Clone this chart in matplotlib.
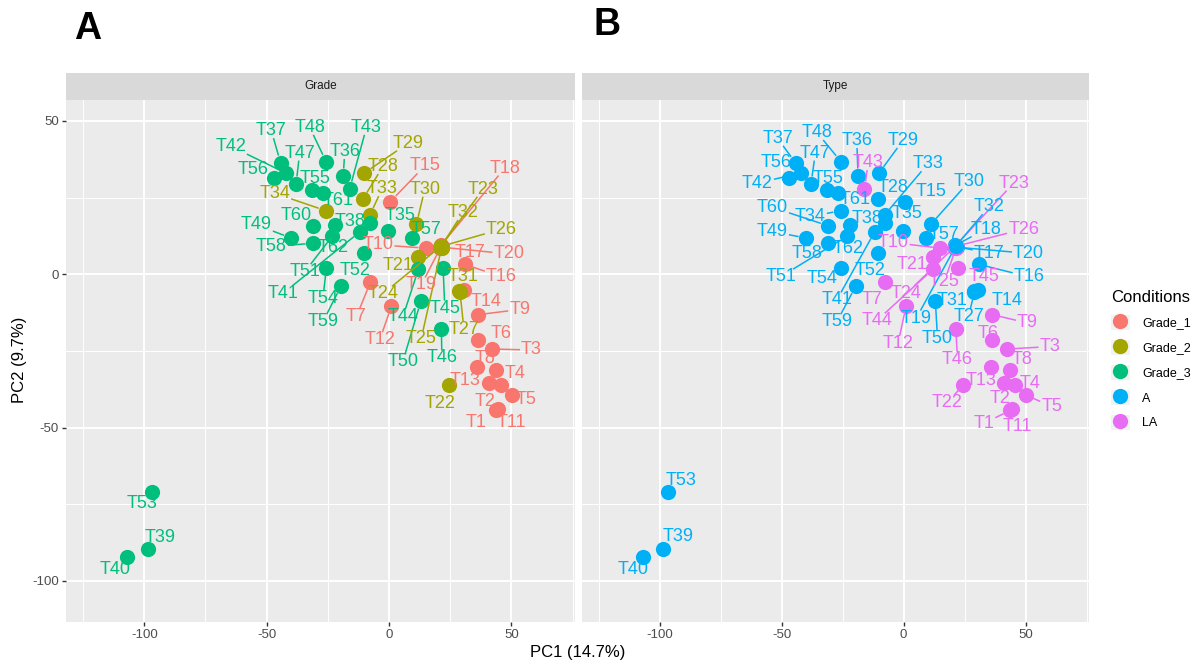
import math

import matplotlib
matplotlib.use("Agg")
import matplotlib.pyplot as plt
from matplotlib.lines import Line2D
from matplotlib.patches import Patch
from matplotlib.legend_handler import HandlerTuple


samples = ["T1", "T2", "T3", "T4", "T5", "T6", "T7", "T8", "T9", "T10",
           "T11", "T12", "T13", "T14", "T15", "T16", "T17", "T18", "T19", "T20",
           "T21", "T22", "T23", "T24", "T25", "T26", "T27", "T28", "T29", "T30",
           "T31", "T32", "T33", "T34", "T35", "T36", "T37", "T38", "T39", "T40",
           "T41", "T42", "T43", "T44", "T45", "T46", "T47", "T48", "T49", "T50",
           "T51", "T52", "T53", "T54", "T55", "T56", "T57", "T58", "T59", "T60",
           "T61", "T62"]

pc1 = [43.8, 41.0, 42.2, 45.8, 50.2, 36.2, -7.6, 43.8, 36.4, 15.1,
       44.4, 1.0, 35.8, 30.6, 0.6, 30.9, 21.8, 21.2, 21.0, 21.6,
       11.9, 24.5, 21.3, 21.0, 21.5, 21.4, 29.0, -10.7, -10.1, 11.2,
       28.8, 21.4, -7.8, -25.8, -0.4, -18.7, -44.3, -7.6, -98.5, -107.0,
       -11.9, -42.2, -16.1, 12.0, 22.1, 21.4, -38.0, -25.7, -40.0, 13.0,
       -23.2, -10.4, -96.7, -25.6, -31.6, -47.0, 9.2, -31.0, -19.7, -31.0,
       -26.9, -22.0]

pc2 = [-44.4, -35.5, -24.4, -36.0, -39.4, -21.4, -2.6, -31.3, -13.2, 8.5,
       -44.0, -10.4, -30.2, -5.2, 23.7, 3.2, 9.0, 9.4, 8.6, 8.8,
       5.7, -36.0, 9.3, 9.0, 8.7, 9.1, -5.8, 24.5, 33.0, 16.3,
       -5.6, 9.2, 19.3, 20.7, 14.0, 32.0, 36.3, 16.6, -89.6, -92.3,
       13.8, 33.0, 27.8, 1.6, 2.0, -17.8, 29.4, 36.7, 11.8, -8.8,
       12.4, 7.0, -71.0, 2.0, 27.6, 31.4, 11.7, 10.1, -4.0, 15.8,
       26.5, 16.0]

grade = ["Grade_1"] * 20 + ["Grade_2"] * 14 + ["Grade_3"] * 28

tissue_type = (["LA"] * 13 + ["A"] * 7 + ["LA"] * 6 + ["A"] * 16
               + ["LA"] * 4 + ["A"] * 16)

levels = ["Grade_1", "Grade_2", "Grade_3", "A", "LA"]
colors = {"Grade_1": "#F8766D", "Grade_2": "#A3A500", "Grade_3": "#00BF7D",
          "A": "#00B0F6", "LA": "#E76BF3"}

# where the repelled labels ended up in each facet (data units)
label_pos_grade = {
    "T1": (35.4, -48.4), "T2": (39.1, -41.5), "T3": (58.2, -24.7), "T4": (51.4, -32.5),
    "T5": (56.2, -40.8), "T6": (45.9, -19.2), "T7": (-13.3, -13.8), "T8": (39.1, -27.4),
    "T9": (53.4, -11.5), "T10": (-4.5, 9.6), "T11": (50.0, -48.4), "T12": (-3.8, -21.4),
    "T13": (30.9, -34.5), "T14": (39.8, -8.9), "T15": (14.6, 35.3), "T16": (45.9, -0.8),
    "T17": (33.0, 7.0), "T18": (47.3, 34.6), "T19": (13.2, -3.5), "T20": (49.0, 6.6),
    "T21": (3.7, 2.7), "T22": (20.7, -42.3), "T23": (38.4, 27.7), "T24": (-2.5, -6.4),
    "T25": (13.2, -20.9), "T26": (45.9, 14.7), "T27": (30.6, -17.9), "T28": (-2.5, 35.1),
    "T29": (7.8, 42.7), "T30": (14.6, 27.7), "T31": (30.2, -0.8), "T32": (30.2, 20.1),
    "T33": (-2.8, 27.9), "T34": (-46.7, 26.4), "T35": (4.4, 19.3), "T36": (-18.1, 40.0),
    "T37": (-48.1, 46.8), "T38": (-16.1, 17.2), "T39": (-93.7, -85.7), "T40": (-112.1, -96.4),
    "T41": (-43.3, -6.2), "T42": (-64.4, 41.6), "T43": (-9.2, 47.9), "T44": (5.7, -13.8),
    "T45": (22.8, -11.1), "T46": (21.6, -27.3), "T47": (-36.5, 39.5), "T48": (-32.4, 47.9),
    "T49": (-54.2, 16.1), "T50": (5.6, -28.6), "T51": (-34.4, 0.8), "T52": (-14.0, 1.2),
    "T53": (-101.1, -74.9), "T54": (-27.0, -7.8), "T55": (-30.4, 31.3), "T56": (-55.6, 34.2),
    "T57": (15.3, 14.7), "T58": (-48.1, 9.0), "T59": (-27.0, -15.5), "T60": (-37.8, 19.0),
    "T61": (-20.8, 24.0), "T62": (-22.9, 8.8),
}

label_pos_type = {
    "T1": (32.9, -48.6), "T2": (39.7, -40.4), "T3": (60.0, -23.6), "T4": (51.9, -35.5),
    "T5": (60.7, -43.2), "T6": (34.6, -19.3), "T7": (-13.1, -8.2), "T8": (48.5, -27.9),
    "T9": (50.8, -15.9), "T10": (-4.3, 10.3), "T11": (46.5, -49.5), "T12": (-2.3, -22.6),
    "T13": (31.6, -34.5), "T14": (42.4, -8.5), "T15": (11.3, 26.9), "T16": (51.5, -0.9),
    "T17": (35.0, 6.8), "T18": (33.6, 14.7), "T19": (5.2, -14.3), "T20": (51.2, 6.8),
    "T21": (3.5, 3.2), "T22": (18.0, -41.9), "T23": (45.1, 29.7), "T24": (1.1, -6.3),
    "T25": (16.7, -2.4), "T26": (49.2, 14.7), "T27": (26.6, -13.9), "T28": (-4.3, 28.3),
    "T29": (-0.3, 43.6), "T30": (26.8, 30.2), "T31": (19.8, -8.6), "T32": (35.0, 22.0),
    "T33": (9.9, 36.0), "T34": (-38.2, 18.8), "T35": (1.4, 19.7), "T36": (-19.2, 43.6),
    "T37": (-51.7, 44.3), "T38": (-15.2, 18.3), "T39": (-92.3, -85.6), "T40": (-111.0, -96.4),
    "T41": (-27.4, -8.4), "T42": (-59.9, 29.7), "T43": (-14.5, 36.4), "T44": (-11.1, -15.2),
    "T45": (32.9, -0.8), "T46": (22.1, -27.9), "T47": (-36.2, 39.5), "T48": (-35.5, 46.2),
    "T49": (-53.8, 13.9), "T50": (13.9, -20.9), "T51": (-50.4, -0.8), "T52": (-13.8, 1.2),
    "T53": (-91.1, -67.4), "T54": (-33.5, -1.3), "T55": (-30.8, 31.3), "T56": (-52.4, 36.4),
    "T57": (16.7, 12.8), "T58": (-39.6, 6.8), "T59": (-27.4, -15.5), "T60": (-53.8, 21.8),
    "T61": (-19.9, 24.2), "T62": (-22.6, 8.5),
}

LABEL_FONT = ["Liberation Sans Narrow", "Liberation Sans", "DejaVu Sans"]
BASE_FONT = ["Liberation Sans", "DejaVu Sans"]
plt.rcParams["font.family"] = BASE_FONT
plt.rcParams["axes.unicode_minus"] = False

POINT_S = 120
POINT_R = math.sqrt(POINT_S) / 2 * 100 / 72  # radius in pixels


def style_panel(ax, strip_text, fig, show_y):
    ax.set_facecolor("#EBEBEB")
    ax.set_xlim(-132, 76)
    ax.set_ylim(-113.3, 56.8)
    ax.set_xticks([-100, -50, 0, 50])
    ax.set_xticks([-125, -75, -25, 25, 75], minor=True)
    ax.set_yticks([-100, -50, 0, 50])
    ax.set_yticks([-75, -25, 25], minor=True)
    ax.grid(which="major", color="white", linewidth=1.4)
    ax.grid(which="minor", color="white", linewidth=0.7)
    ax.set_axisbelow(True)
    for s in ax.spines.values():
        s.set_visible(False)
    ax.tick_params(which="major", length=3, width=1.0, color="#333333",
                   labelsize=9.5, labelcolor="#4D4D4D", pad=2)
    ax.tick_params(which="minor", length=0)
    if not show_y:
        ax.tick_params(axis="y", which="major", length=0, labelleft=False)

    pos = ax.get_position()
    sax = fig.add_axes([pos.x0, pos.y1, pos.width, 27.5 / 664])
    sax.set_facecolor("#D9D9D9")
    sax.set_xticks([])
    sax.set_yticks([])
    for s in sax.spines.values():
        s.set_visible(False)
    sax.text(0.5, 0.5, strip_text, ha="center", va="center",
             fontsize=8.5, color="#1A1A1A", transform=sax.transAxes)


def draw_panel(ax, groups, label_pos):
    texts = []
    for name, x, y, g in zip(samples, pc1, pc2, groups):
        ax.scatter(x, y, s=POINT_S, color=colors[g], linewidths=0, zorder=3)
    for name, x, y, g in zip(samples, pc1, pc2, groups):
        lx, ly = label_pos[name]
        t = ax.text(lx, ly, name, color=colors[g], fontsize=13,
                    family=LABEL_FONT, ha="center", va="center", zorder=6)
        texts.append((t, x, y, colors[g]))
    return texts


def add_segments(fig, ax, texts):
    renderer = fig.canvas.get_renderer()
    inv = ax.transData.inverted()
    for t, x, y, c in texts:
        bb = t.get_window_extent(renderer)
        px, py = ax.transData.transform((x, y))
        lcx, lcy = (bb.x0 + bb.x1) / 2, (bb.y0 + bb.y1) / 2
        vx, vy = lcx - px, lcy - py
        dist = math.hypot(vx, vy)
        if dist < 1e-6:
            continue
        hw, hh = bb.width / 2 + 1, bb.height / 2 - 1
        s = min(hw / abs(vx) if vx else 1e9, hh / abs(vy) if vy else 1e9, 1.0)
        ex, ey = lcx - vx * s, lcy - vy * s
        seg = math.hypot(ex - px, ey - py)
        if seg < POINT_R + 6:
            continue
        sx, sy = px + vx / dist * POINT_R, py + vy / dist * POINT_R
        (x0, y0), (x1, y1) = inv.transform([(sx, sy), (ex, ey)])
        ax.plot([x0, x1], [y0, y1], color=c, linewidth=1.1, zorder=5,
                solid_capstyle="butt")


fig = plt.figure(figsize=(12, 6.64), dpi=100)
ax_a = fig.add_axes([66 / 1200, 1 - 621.7 / 664, 509 / 1200, 521.7 / 664])
ax_b = fig.add_axes([581.7 / 1200, 1 - 621.7 / 664, 507.3 / 1200, 521.7 / 664])

style_panel(ax_a, "Grade", fig, True)
style_panel(ax_b, "Type", fig, False)

texts_a = draw_panel(ax_a, grade, label_pos_grade)
texts_b = draw_panel(ax_b, tissue_type, label_pos_type)

fig.text(578 / 1200, 1 - 653 / 664, "PC1 (14.7%)", ha="center", va="center",
         fontsize=12, color="black")
fig.text(20 / 1200, 1 - 360 / 664, "PC2 (9.7%)", ha="center", va="center",
         rotation=90, fontsize=12, color="black")

fig.text(88 / 1200, 1 - 29 / 664, "A", ha="center", va="center",
         fontsize=27, fontweight="bold")
fig.text(607 / 1200, 1 - 25 / 664, "B", ha="center", va="center",
         fontsize=27, fontweight="bold")

handles = [(Patch(facecolor="#F2F2F2", edgecolor="none"),
            Line2D([], [], marker="o", linestyle="", markersize=11,
                   markerfacecolor=colors[g], markeredgewidth=0))
           for g in levels]
leg = fig.legend(handles, levels, title="Conditions",
                 handler_map={tuple: HandlerTuple(ndivide=1)},
                 loc="upper left", bbox_to_anchor=(1106 / 1200, 1 - 285 / 664),
                 frameon=False, fontsize=9, title_fontsize=12,
                 handlelength=1.5, handleheight=1.5, handletextpad=1.0,
                 labelspacing=0.78, borderaxespad=0)
leg._legend_box.align = "left"

fig.canvas.draw()
add_segments(fig, ax_a, texts_a)
add_segments(fig, ax_b, texts_b)

fig.savefig("out.png", dpi=100)
